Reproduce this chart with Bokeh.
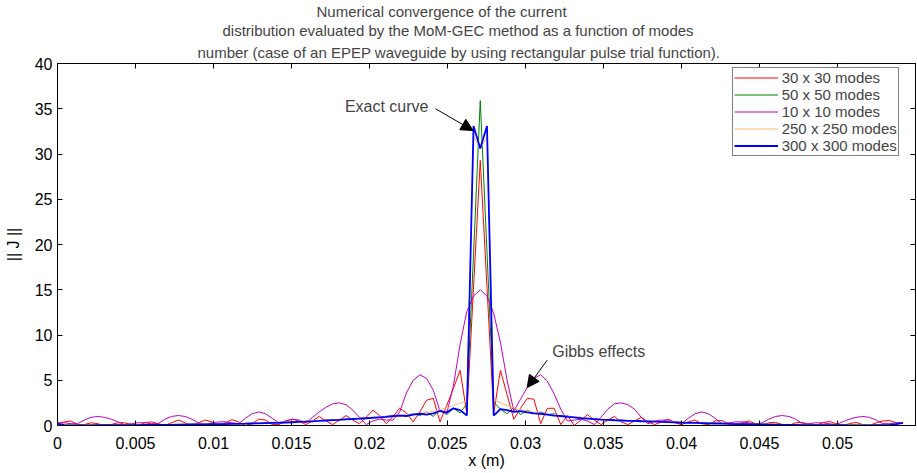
import numpy as np
from bokeh.plotting import figure
from bokeh.models import (Range1d, LinearAxis, FixedTicker, Legend, LegendItem, Arrow,
                          NormalHead, Label, Title, CustomJSTickFormatter)
from bokeh.embed import file_html
from bokeh.resources import INLINE

# ---------------- data ----------------
x_m = np.linspace(0.0, 0.0542, 127)          # sample positions along the guide (m)

modes_30 = [0.2, 0.4, 0.5, 0.1, 0.1, 0.3, 0.2, 0.0, 0.1, 0.3,
            0.3, 0.1, 0.0, 0.3, 0.4, 0.2, 0.0, 0.3, 0.6, 0.3,
            0.0, 0.3, 0.6, 0.4, 0.0, 0.3, 0.65, 0.4, 0.0, 0.2,
            0.7, 0.6, 0.1, 0.1, 0.5, 0.7, 0.5, 0.1, 0.5, 1.0,
            0.5, 0.1, 0.6, 1.1, 0.6, 0.2, 0.9, 1.7, 1.1, 0.2,
            1.0, 1.9, 1.4, 0.4, 1.5, 2.8, 3.0, 0.4, 2.2, 4.1,
            6.1, 1.3, 15.3, 29.3, 15.3, 1.3, 6.1, 3.4, 0.7, 1.9,
            3.0, 2.9, 0.2, 1.9, 1.9, 0.1, 1.1, 0.0, 0.6, 1.2,
            0.6, 0.1, 0.6, 1.0, 0.4, 0.1, 0.5, 0.9, 0.4, 0.1,
            0.4, 0.7, 0.3, 0.1, 0.4, 0.6, 0.2, 0.1, 0.5, 0.55,
            0.2, 0.1, 0.3, 0.5, 0.2, 0.0, 0.3, 0.35, 0.1, 0.0,
            0.3, 0.35, 0.1, 0.0, 0.3, 0.45, 0.2, 0.0, 0.2, 0.35,
            0.1, 0.0, 0.3, 0.5, 0.55, 0.3, 0.3]

modes_50 = [0.3, 0.08, 0.04, 0.05, 0.03, 0.05, 0.04, 0.06, 0.05, 0.07,
            0.06, 0.08, 0.07, 0.09, 0.08, 0.1, 0.09, 0.12, 0.11, 0.13,
            0.13, 0.15, 0.14, 0.17, 0.17, 0.2, 0.19, 0.23, 0.22, 0.26,
            0.26, 0.3, 0.3, 0.35, 0.35, 0.4, 0.41, 0.47, 0.47, 0.54,
            0.56, 0.63, 0.64, 0.72, 0.73, 0.82, 0.82, 0.92, 0.9, 1.02,
            0.98, 1.15, 1.05, 1.3, 1.1, 1.5, 1.0, 1.8, 1.2, 1.9,
            1.4, 2.4, 19.0, 35.9, 19.2, 2.6, 1.8, 1.3, 2.0, 1.2,
            1.7, 1.3, 1.5, 1.2, 1.3, 1.0, 1.05, 0.88, 0.9, 0.76,
            0.76, 0.66, 0.66, 0.59, 0.59, 0.53, 0.53, 0.48, 0.48, 0.44,
            0.43, 0.4, 0.39, 0.36, 0.34, 0.32, 0.3, 0.28, 0.26, 0.24,
            0.22, 0.21, 0.19, 0.18, 0.16, 0.15, 0.14, 0.13, 0.12, 0.11,
            0.1, 0.09, 0.08, 0.08, 0.07, 0.06, 0.06, 0.05, 0.05, 0.05,
            0.05, 0.05, 0.06, 0.07, 0.1, 0.17, 0.3]

modes_10 = [0.3, 0.3, 0.2, 0.2, 0.6, 0.9, 1.0, 0.9, 0.7, 0.4,
            0.1, 0.2, 0.3, 0.3, 0.2, 0.2, 0.7, 1.0, 1.1, 1.0,
            0.7, 0.3, 0.1, 0.3, 0.4, 0.4, 0.3, 0.2, 0.8, 1.3,
            1.5, 1.3, 0.8, 0.3, 0.5, 0.7, 0.6, 0.3, 0.9, 1.5,
            2.0, 2.4, 2.5, 2.3, 1.7, 0.9, 0.1, 0.5, 0.7, 0.6,
            0.6, 1.5, 3.6, 5.0, 5.6, 5.2, 3.9, 1.6, 1.3, 4.4,
            9.0, 12.6, 14.3, 15.0, 14.3, 12.4, 9.2, 5.0, 1.6, 2.9,
            4.2, 5.2, 5.6, 4.9, 3.5, 1.8, 0.5, 0.6, 0.7, 0.5,
            0.1, 0.9, 1.8, 2.4, 2.5, 2.3, 1.8, 0.9, 0.2, 0.5,
            0.6, 0.6, 0.4, 0.2, 0.8, 1.3, 1.5, 1.3, 0.8, 0.2,
            0.3, 0.4, 0.4, 0.3, 0.1, 0.3, 0.7, 1.0, 1.1, 1.0,
            0.7, 0.2, 0.2, 0.3, 0.3, 0.2, 0.1, 0.4, 0.7, 0.9,
            1.0, 0.9, 0.6, 0.2, 0.2, 0.3, 0.3]

modes_250 = [0.3, 0.1, 0.05, 0.04, 0.04, 0.05, 0.05, 0.06, 0.06, 0.07,
             0.07, 0.08, 0.08, 0.09, 0.1, 0.1, 0.11, 0.12, 0.13, 0.14,
             0.15, 0.16, 0.17, 0.18, 0.2, 0.21, 0.22, 0.24, 0.26, 0.28,
             0.3, 0.32, 0.34, 0.37, 0.4, 0.43, 0.46, 0.5, 0.53, 0.57,
             0.62, 0.66, 0.7, 0.74, 0.78, 0.82, 0.87, 0.92, 0.97, 1.02,
             1.08, 1.14, 1.2, 1.28, 1.36, 1.45, 1.58, 1.75, 1.95, 2.2,
             2.5, 2.7, 31.9, 30.6, 31.9, 2.8, 2.5, 2.2, 1.95, 1.75,
             1.6, 1.48, 1.38, 1.28, 1.18, 1.1, 1.02, 0.95, 0.88, 0.82,
             0.76, 0.71, 0.67, 0.63, 0.59, 0.56, 0.53, 0.5, 0.47, 0.45,
             0.42, 0.4, 0.38, 0.35, 0.33, 0.31, 0.29, 0.27, 0.25, 0.23,
             0.21, 0.2, 0.18, 0.17, 0.15, 0.14, 0.13, 0.12, 0.11, 0.1,
             0.09, 0.08, 0.07, 0.07, 0.06, 0.06, 0.05, 0.05, 0.05, 0.05,
             0.05, 0.05, 0.06, 0.07, 0.1, 0.18, 0.32]

modes_300 = [0.2, 0.05, 0.02, 0.02, 0.02, 0.02, 0.03, 0.03, 0.03, 0.04,
             0.04, 0.05, 0.05, 0.06, 0.06, 0.07, 0.08, 0.08, 0.09, 0.1,
             0.11, 0.12, 0.13, 0.14, 0.15, 0.16, 0.18, 0.19, 0.2, 0.22,
             0.24, 0.26, 0.28, 0.3, 0.33, 0.36, 0.4, 0.42, 0.46, 0.5,
             0.55, 0.6, 0.62, 0.68, 0.72, 0.75, 0.8, 0.85, 0.9, 0.95,
             1.05, 1.1, 1.05, 1.2, 1.3, 1.2, 1.35, 1.6, 1.45, 1.9,
             1.7, 1.1, 33.1, 30.6, 33.1, 1.1, 1.8, 1.7, 1.5, 1.6,
             1.45, 1.35, 1.3, 1.2, 1.1, 1.05, 0.95, 0.9, 0.8, 0.75,
             0.7, 0.65, 0.62, 0.58, 0.55, 0.52, 0.5, 0.47, 0.45, 0.42,
             0.4, 0.37, 0.35, 0.32, 0.3, 0.28, 0.26, 0.24, 0.22, 0.2,
             0.18, 0.16, 0.15, 0.14, 0.12, 0.11, 0.1, 0.09, 0.08, 0.07,
             0.06, 0.05, 0.05, 0.04, 0.04, 0.03, 0.03, 0.03, 0.02, 0.02,
             0.02, 0.02, 0.03, 0.04, 0.08, 0.15, 0.3]

series_labels = ["30 x 30 modes", "50 x 50 modes", "10 x 10 modes",
                 "250 x 250 modes", "300 x 300 modes"]
x_ticks = [0, 0.005, 0.01, 0.015, 0.02, 0.025, 0.03, 0.035, 0.04, 0.045, 0.05]
y_ticks = [0, 5, 10, 15, 20, 25, 30, 35, 40]
title_lines = ["Numerical convergence of the current",
               "distribution evaluated by the MoM-GEC method as a function of modes",
               "number (case of an EPEP waveguide by using rectangular pulse trial function)."]
x_label = "x (m)"
y_label = "|| J ||"

FONT = "Liberation Sans"
FS = "16px"

p = figure(width=917, height=473, output_backend="svg", toolbar_location=None,
           x_range=Range1d(0, 0.055), y_range=Range1d(0, 40),
           title_location=None,
           min_border_left=57, min_border_right=2, min_border_bottom=48, min_border_top=0)
p.background_fill_color = "white"
p.border_fill_color = "white"
p.outline_line_color = "black"
p.grid.visible = False

fmt = CustomJSTickFormatter(code="return String(Number(tick.toFixed(4)));")

for ax in (p.xaxis[0], p.yaxis[0]):
    ax.major_tick_in = 5
    ax.major_tick_out = 0
    ax.minor_tick_line_color = None
    ax.axis_line_color = "black"
    ax.major_tick_line_color = "black"
    ax.major_label_text_font = FONT
    ax.major_label_text_font_size = FS
    ax.major_label_text_color = "black"
    ax.axis_label_text_font = FONT
    ax.axis_label_text_font_size = FS
    ax.axis_label_text_font_style = "normal"
    ax.axis_label_text_color = "black"
p.xaxis[0].ticker = FixedTicker(ticks=x_ticks)
p.xaxis[0].formatter = fmt
p.xaxis[0].major_label_standoff = 11
p.xaxis[0].axis_label = x_label
p.xaxis[0].axis_label_standoff = 0
p.yaxis[0].ticker = FixedTicker(ticks=y_ticks)
p.yaxis[0].major_label_standoff = 5
p.yaxis[0].axis_label = y_label
p.yaxis[0].axis_label_standoff = 10

top_axis = LinearAxis(ticker=FixedTicker(ticks=x_ticks), major_tick_in=5, major_tick_out=0,
                      minor_tick_line_color=None, major_label_text_font_size="1px",
                      major_label_text_color=None, major_label_standoff=0,
                      axis_line_color="black")
right_axis = LinearAxis(ticker=FixedTicker(ticks=y_ticks), major_tick_in=5, major_tick_out=0,
                        minor_tick_line_color=None, major_label_text_font_size="1px",
                        major_label_text_color=None, major_label_standoff=0,
                        axis_line_color="black")
p.add_layout(top_axis, "above")
p.add_layout(right_axis, "right")

# titles: added nearest-first, left aligned with offsets from the frame's left edge
for txt, off, sto in [(title_lines[2], 140, 6), (title_lines[1], 165, 0), (title_lines[0], 259, 0)]:
    p.add_layout(Title(text=txt, align="left", offset=off, text_font=FONT,
                       text_font_size="15px", text_font_style="normal",
                       standoff=sto), "above")

colors = ["#FF0000", "#008000", "#BF00BF", "#FFB870", "#0000FF"]
widths = [1.0, 1.0, 1.0, 1.0, 1.8]
ys = [modes_30, modes_50, modes_10, modes_250, modes_300]
renderers = []
for yv, c, w in zip(ys, colors, widths):
    renderers.append(p.line(x_m, yv, line_color=c, line_width=w))

legend = Legend(items=[LegendItem(label=l, renderers=[r]) for l, r in zip(series_labels, renderers)],
                location=(674.7, 269.3), border_line_color="black", border_line_width=1,
                background_fill_color="white", background_fill_alpha=1.0,
                padding=1, spacing=0, margin=0, glyph_width=44, glyph_height=15,
                label_height=15, label_standoff=4, label_text_font=FONT,
                label_text_font_size="15px", label_text_line_height=1.0)
p.add_layout(legend)

# annotations
p.add_layout(Arrow(end=NormalHead(size=12, fill_color="black", line_color="black"),
                   x_start=0.024231, y_start=35.0, x_end=0.026647, y_end=32.59,
                   line_color="black", line_width=1))
p.add_layout(Label(x=0.023782, y=35.22, text="Exact curve", text_align="right",
                   text_baseline="middle", text_font=FONT, text_font_size=FS))
p.add_layout(Arrow(end=NormalHead(size=12, fill_color="black", line_color="black"),
                   x_start=0.031391, y_start=7.22, x_end=0.030109, y_end=4.19,
                   line_color="black", line_width=1))
p.add_layout(Label(x=0.031712, y=8.22, text="Gibbs effects", text_align="left",
                   text_baseline="middle", text_font=FONT, text_font_size=FS))

open("out.html", "w").write(file_html(p, INLINE))
